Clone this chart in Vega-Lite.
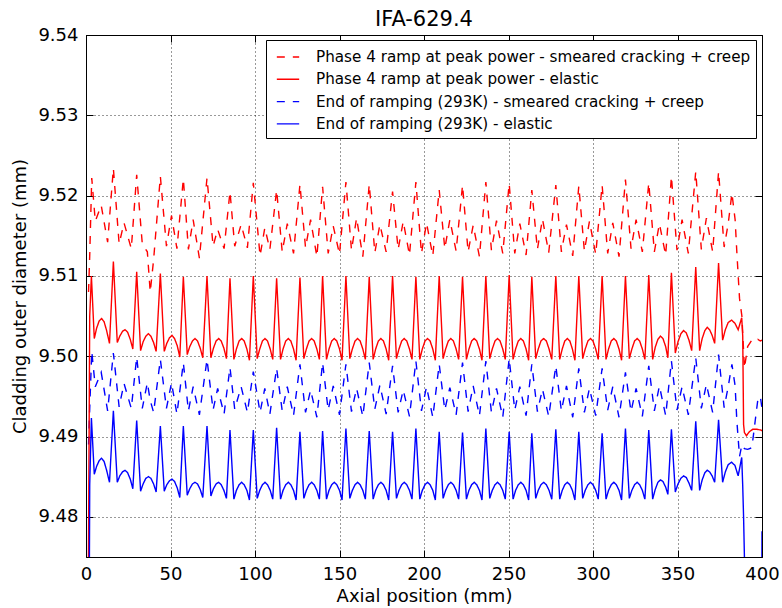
{
"$schema":"https://vega.github.io/schema/vega-lite/v6.json",
"width":676,"height":522,
"autosize":{"type":"none"},
"padding":{"left":86,"top":35,"right":20,"bottom":51},
"background":"white",
"title":{"text":"IFA-629.4","fontSize":21,"fontWeight":"normal","font":"DejaVu Sans","color":"black","offset":-4,"frame":"group"},
"config":{
"font":"DejaVu Sans",
"view":{"stroke":"black","strokeWidth":1},
"axis":{"labelFont":"DejaVu Sans","titleFont":"DejaVu Sans","labelFontSize":18,"titleFontSize":18,"titleFontWeight":"normal","labelColor":"black","titleColor":"black","domainColor":"black","tickColor":"black","tickSize":-7,"labelPadding":15,"gridColor":"black","gridDash":[1,3],"gridOpacity":0.8,"gridWidth":1},
"legend":{"orient":"none","legendX":180,"legendY":5,"strokeColor":"black","fillColor":"white","padding":5,"symbolOffset":5,"symbolType":"stroke","symbolSize":500,"symbolStrokeWidth":1.4,"labelFontSize":15.2,"labelFont":"DejaVu Sans","labelColor":"black","labelLimit":1000,"labelOffset":16,"rowPadding":1.3,"cornerRadius":0}
},
"datasets":{
"dashed":[
{"x":1.5,"a":9.5080,"c":9.4890},{"x":2.2,"a":9.5125,"c":9.4935},
{"x":3.4,"a":9.5222,"c":9.5006},{"x":5.5,"a":9.5168,"c":9.4962},{"x":9.0,"a":9.5188,"c":9.4980},{"x":12.8,"a":9.5142,"c":9.4932},
{"x":16.2,"a":9.5234,"c":9.5004},{"x":19.6,"a":9.5140,"c":9.4937},{"x":22.5,"a":9.5166,"c":9.4966},{"x":26.8,"a":9.5134,"c":9.4935},
{"x":30.0,"a":9.5226,"c":9.4999},{"x":33.3,"a":9.5140,"c":9.4935},{"x":36.3,"a":9.5130,"c":9.4967},{"x":38.0,"a":9.5080,"c":9.4945},{"x":40.0,"a":9.5120,"c":9.4930},
{"x":44.0,"a":9.5224,"c":9.4996},{"x":47.6,"a":9.5137,"c":9.4935},{"x":50.6,"a":9.5175,"c":9.4967},{"x":53.8,"a":9.5134,"c":9.4928},
{"x":57.6,"a":9.5221,"c":9.4992},{"x":60.6,"a":9.5133,"c":9.4932},{"x":63.4,"a":9.5170,"c":9.4962},{"x":67.1,"a":9.5122,"c":9.4927},
{"x":71.6,"a":9.5222,"c":9.4996},{"x":75.2,"a":9.5137,"c":9.4933},{"x":77.9,"a":9.5158,"c":9.4960},{"x":81.7,"a":9.5134,"c":9.4928},
{"x":85.2,"a":9.5205,"c":9.4986},{"x":88.0,"a":9.5137,"c":9.4934},{"x":91.8,"a":9.5164,"c":9.4962},{"x":95.5,"a":9.5135,"c":9.4930},
{"x":99.0,"a":9.5216,"c":9.4981},{"x":103.0,"a":9.5125,"c":9.4930},{"x":105.8,"a":9.5160,"c":9.4960},{"x":108.8,"a":9.5133,"c":9.4928},
{"x":112.8,"a":9.5207,"c":9.4985},{"x":116.1,"a":9.5130,"c":9.4932},{"x":119.1,"a":9.5165,"c":9.4962},{"x":122.8,"a":9.5128,"c":9.4926},
{"x":126.6,"a":9.5214,"c":9.4990},{"x":129.9,"a":9.5135,"c":9.4930},{"x":132.9,"a":9.5170,"c":9.4958},{"x":136.6,"a":9.5124,"c":9.4924},
{"x":140.0,"a":9.5211,"c":9.4992},{"x":143.3,"a":9.5128,"c":9.4933},{"x":146.3,"a":9.5162,"c":9.4963},{"x":150.0,"a":9.5127,"c":9.4927},
{"x":153.8,"a":9.5217,"c":9.4990},{"x":157.1,"a":9.5132,"c":9.4931},{"x":160.1,"a":9.5172,"c":9.4960},{"x":163.8,"a":9.5124,"c":9.4925},
{"x":167.6,"a":9.5214,"c":9.4992},{"x":170.9,"a":9.5129,"c":9.4934},{"x":173.9,"a":9.5164,"c":9.4964},{"x":177.6,"a":9.5130,"c":9.4928},
{"x":181.4,"a":9.5205,"c":9.4988},{"x":184.7,"a":9.5133,"c":9.4930},{"x":187.7,"a":9.5168,"c":9.4958},{"x":191.4,"a":9.5126,"c":9.4925},
{"x":195.2,"a":9.5217,"c":9.4994},{"x":198.5,"a":9.5128,"c":9.4932},{"x":201.5,"a":9.5166,"c":9.4962},{"x":205.2,"a":9.5125,"c":9.4924},
{"x":209.0,"a":9.5207,"c":9.4990},{"x":212.3,"a":9.5134,"c":9.4933},{"x":215.3,"a":9.5170,"c":9.4961},{"x":219.0,"a":9.5131,"c":9.4927},
{"x":222.8,"a":9.5213,"c":9.4992},{"x":226.1,"a":9.5130,"c":9.4931},{"x":229.1,"a":9.5163,"c":9.4963},{"x":232.8,"a":9.5124,"c":9.4926},
{"x":236.6,"a":9.5217,"c":9.4994},{"x":239.9,"a":9.5132,"c":9.4930},{"x":242.9,"a":9.5169,"c":9.4960},{"x":246.6,"a":9.5128,"c":9.4924},
{"x":250.4,"a":9.5215,"c":9.4997},{"x":253.7,"a":9.5128,"c":9.4933},{"x":256.7,"a":9.5165,"c":9.4962},{"x":260.4,"a":9.5126,"c":9.4926},
{"x":263.8,"a":9.5207,"c":9.4990},{"x":267.1,"a":9.5133,"c":9.4931},{"x":270.1,"a":9.5171,"c":9.4959},{"x":273.8,"a":9.5129,"c":9.4925},
{"x":278.0,"a":9.5213,"c":9.4988},{"x":281.3,"a":9.5130,"c":9.4932},{"x":284.3,"a":9.5164,"c":9.4963},{"x":288.0,"a":9.5125,"c":9.4924},
{"x":291.6,"a":9.5212,"c":9.4985},{"x":294.9,"a":9.5131,"c":9.4930},{"x":297.9,"a":9.5168,"c":9.4960},{"x":301.6,"a":9.5127,"c":9.4926},
{"x":305.4,"a":9.5213,"c":9.4985},{"x":308.7,"a":9.5128,"c":9.4933},{"x":311.7,"a":9.5166,"c":9.4962},{"x":315.4,"a":9.5124,"c":9.4924},
{"x":319.2,"a":9.5220,"c":9.4980},{"x":322.5,"a":9.5134,"c":9.4931},{"x":325.5,"a":9.5170,"c":9.4960},{"x":329.2,"a":9.5130,"c":9.4925},
{"x":333.0,"a":9.5216,"c":9.4988},{"x":336.3,"a":9.5130,"c":9.4932},{"x":339.3,"a":9.5165,"c":9.4963},{"x":343.0,"a":9.5126,"c":9.4926},
{"x":346.4,"a":9.5224,"c":9.4994},{"x":349.7,"a":9.5132,"c":9.4933},{"x":352.7,"a":9.5170,"c":9.4962},{"x":356.4,"a":9.5128,"c":9.4927},
{"x":360.8,"a":9.5230,"c":9.4998},{"x":364.1,"a":9.5133,"c":9.4935},{"x":367.1,"a":9.5172,"c":9.4965},{"x":370.8,"a":9.5130,"c":9.4930},
{"x":374.3,"a":9.5230,"c":9.5002},{"x":377.6,"a":9.5136,"c":9.4936},{"x":380.0,"a":9.5165,"c":9.4962},{"x":382.2,"a":9.5203,"c":9.4990},
{"x":384.1,"a":9.5170,"c":9.4963},{"x":385.1,"a":9.5130,"c":9.4920},{"x":386.7,"a":9.5072,"c":9.4875},{"x":388.1,"a":9.5050,"c":9.4890},
{"x":389.6,"a":9.4985,"c":9.4885},{"x":391.5,"a":9.5012,"c":9.4884},{"x":394.0,"a":9.5020,"c":9.4886},{"x":396.0,"a":9.5018,"c":9.4920},
{"x":397.6,"a":9.5021,"c":9.4947},{"x":399.0,"a":9.5019,"c":9.4950},{"x":400.0,"a":9.5020,"c":9.4935}
],
"solid":[
{"x":0.6,"b":9.44,"d":9.40},{"x":2.2,"b":9.505,"d":9.484},
{"x":3.2,"b":9.5100,"d":9.4923},{"x":4.9,"b":9.5022,"d":9.4853},{"x":6.3,"b":9.5035,"d":9.4863},{"x":7.8,"b":9.5044,"d":9.4870},{"x":9.2,"b":9.5047,"d":9.4873},{"x":10.7,"b":9.5043,"d":9.4869},{"x":12.2,"b":9.5032,"d":9.4858},{"x":13.9,"b":9.5016,"d":9.4843},
{"x":16.2,"b":9.5118,"d":9.4932},{"x":18.5,"b":9.5017,"d":9.4843},{"x":20.0,"b":9.5025,"d":9.4851},{"x":21.6,"b":9.5031,"d":9.4856},{"x":23.1,"b":9.5033,"d":9.4858},{"x":24.6,"b":9.5030,"d":9.4855},{"x":26.2,"b":9.5021,"d":9.4847},{"x":27.7,"b":9.5009,"d":9.4835},
{"x":30.0,"b":9.5105,"d":9.4920},{"x":32.3,"b":9.5007,"d":9.4832},{"x":33.8,"b":9.5018,"d":9.4841},{"x":35.4,"b":9.5025,"d":9.4848},{"x":36.9,"b":9.5028,"d":9.4850},{"x":38.4,"b":9.5025,"d":9.4848},{"x":40.0,"b":9.5017,"d":9.4841},{"x":41.5,"b":9.5006,"d":9.4831},
{"x":44.0,"b":9.5103,"d":9.4913},{"x":46.3,"b":9.5006,"d":9.4832},{"x":47.8,"b":9.5016,"d":9.4840},{"x":49.4,"b":9.5023,"d":9.4845},{"x":50.9,"b":9.5026,"d":9.4847},{"x":52.4,"b":9.5022,"d":9.4844},{"x":54.0,"b":9.5013,"d":9.4836},{"x":55.5,"b":9.4999,"d":9.4824},
{"x":57.6,"b":9.5099,"d":9.4913},{"x":59.9,"b":9.5002,"d":9.4827},{"x":61.4,"b":9.5012,"d":9.4835},{"x":63.0,"b":9.5019,"d":9.4841},{"x":64.5,"b":9.5022,"d":9.4843},{"x":66.0,"b":9.5019,"d":9.4841},{"x":67.6,"b":9.5010,"d":9.4834},{"x":69.1,"b":9.4998,"d":9.4824},
{"x":71.6,"b":9.5100,"d":9.4913},{"x":73.9,"b":9.4998,"d":9.4826},{"x":75.4,"b":9.5010,"d":9.4835},{"x":77.0,"b":9.5019,"d":9.4841},{"x":78.5,"b":9.5022,"d":9.4843},{"x":80.0,"b":9.5019,"d":9.4840},{"x":81.6,"b":9.5010,"d":9.4833},{"x":83.1,"b":9.4997,"d":9.4823},
{"x":85.2,"b":9.5097,"d":9.4908},{"x":87.5,"b":9.4996,"d":9.4822},{"x":89.0,"b":9.5009,"d":9.4833},{"x":90.6,"b":9.5019,"d":9.4840},{"x":92.1,"b":9.5022,"d":9.4843},{"x":93.6,"b":9.5019,"d":9.4840},{"x":95.2,"b":9.5009,"d":9.4833},{"x":96.7,"b":9.4995,"d":9.4821},
{"x":99.0,"b":9.5100,"d":9.4908},{"x":101.3,"b":9.4997,"d":9.4823},{"x":102.8,"b":9.5009,"d":9.4833},{"x":104.4,"b":9.5019,"d":9.4840},{"x":105.9,"b":9.5022,"d":9.4843},{"x":107.4,"b":9.5019,"d":9.4840},{"x":109.0,"b":9.5009,"d":9.4833},{"x":110.5,"b":9.4996,"d":9.4822},
{"x":112.8,"b":9.5097,"d":9.4911},{"x":115.1,"b":9.4996,"d":9.4822},{"x":116.6,"b":9.5009,"d":9.4833},{"x":118.2,"b":9.5019,"d":9.4840},{"x":119.7,"b":9.5022,"d":9.4843},{"x":121.2,"b":9.5019,"d":9.4840},{"x":122.8,"b":9.5009,"d":9.4833},{"x":124.3,"b":9.4995,"d":9.4821},
{"x":126.6,"b":9.5098,"d":9.4906},{"x":128.9,"b":9.4997,"d":9.4823},{"x":130.4,"b":9.5009,"d":9.4833},{"x":132.0,"b":9.5019,"d":9.4840},{"x":133.5,"b":9.5022,"d":9.4843},{"x":135.0,"b":9.5019,"d":9.4840},{"x":136.6,"b":9.5009,"d":9.4833},{"x":138.1,"b":9.4996,"d":9.4822},
{"x":140.0,"b":9.5100,"d":9.4907},{"x":142.3,"b":9.4996,"d":9.4822},{"x":143.8,"b":9.5009,"d":9.4833},{"x":145.4,"b":9.5019,"d":9.4840},{"x":146.9,"b":9.5022,"d":9.4843},{"x":148.4,"b":9.5019,"d":9.4840},{"x":150.0,"b":9.5009,"d":9.4833},{"x":151.5,"b":9.4995,"d":9.4821},
{"x":153.8,"b":9.5100,"d":9.4910},{"x":156.1,"b":9.4997,"d":9.4823},{"x":157.6,"b":9.5009,"d":9.4833},{"x":159.2,"b":9.5019,"d":9.4840},{"x":160.7,"b":9.5022,"d":9.4843},{"x":162.2,"b":9.5019,"d":9.4840},{"x":163.8,"b":9.5009,"d":9.4833},{"x":165.3,"b":9.4996,"d":9.4822},
{"x":167.6,"b":9.5099,"d":9.4907},{"x":169.9,"b":9.4996,"d":9.4822},{"x":171.4,"b":9.5009,"d":9.4833},{"x":173.0,"b":9.5019,"d":9.4840},{"x":174.5,"b":9.5022,"d":9.4843},{"x":176.0,"b":9.5019,"d":9.4840},{"x":177.6,"b":9.5009,"d":9.4833},{"x":179.1,"b":9.4995,"d":9.4821},
{"x":181.4,"b":9.5100,"d":9.4906},{"x":183.7,"b":9.4997,"d":9.4823},{"x":185.2,"b":9.5009,"d":9.4833},{"x":186.8,"b":9.5019,"d":9.4840},{"x":188.3,"b":9.5022,"d":9.4843},{"x":189.8,"b":9.5019,"d":9.4840},{"x":191.4,"b":9.5009,"d":9.4833},{"x":192.9,"b":9.4996,"d":9.4822},
{"x":195.2,"b":9.5099,"d":9.4910},{"x":197.5,"b":9.4996,"d":9.4822},{"x":199.0,"b":9.5009,"d":9.4833},{"x":200.6,"b":9.5019,"d":9.4840},{"x":202.1,"b":9.5022,"d":9.4843},{"x":203.6,"b":9.5019,"d":9.4840},{"x":205.2,"b":9.5009,"d":9.4833},{"x":206.7,"b":9.4995,"d":9.4821},
{"x":209.0,"b":9.5100,"d":9.4906},{"x":211.3,"b":9.4997,"d":9.4823},{"x":212.8,"b":9.5009,"d":9.4833},{"x":214.4,"b":9.5019,"d":9.4840},{"x":215.9,"b":9.5022,"d":9.4843},{"x":217.4,"b":9.5019,"d":9.4840},{"x":219.0,"b":9.5009,"d":9.4833},{"x":220.5,"b":9.4996,"d":9.4822},
{"x":222.8,"b":9.5099,"d":9.4905},{"x":225.1,"b":9.4996,"d":9.4822},{"x":226.6,"b":9.5009,"d":9.4833},{"x":228.2,"b":9.5019,"d":9.4840},{"x":229.7,"b":9.5022,"d":9.4843},{"x":231.2,"b":9.5019,"d":9.4840},{"x":232.8,"b":9.5009,"d":9.4833},{"x":234.3,"b":9.4995,"d":9.4821},
{"x":236.6,"b":9.5100,"d":9.4910},{"x":238.9,"b":9.4997,"d":9.4823},{"x":240.4,"b":9.5009,"d":9.4833},{"x":242.0,"b":9.5019,"d":9.4840},{"x":243.5,"b":9.5022,"d":9.4843},{"x":245.0,"b":9.5019,"d":9.4840},{"x":246.6,"b":9.5009,"d":9.4833},{"x":248.1,"b":9.4996,"d":9.4822},
{"x":250.4,"b":9.5101,"d":9.4906},{"x":252.7,"b":9.4996,"d":9.4822},{"x":254.2,"b":9.5009,"d":9.4833},{"x":255.8,"b":9.5019,"d":9.4840},{"x":257.3,"b":9.5022,"d":9.4843},{"x":258.8,"b":9.5019,"d":9.4840},{"x":260.4,"b":9.5009,"d":9.4833},{"x":261.9,"b":9.4995,"d":9.4821},
{"x":263.8,"b":9.5099,"d":9.4904},{"x":266.1,"b":9.4997,"d":9.4823},{"x":267.6,"b":9.5009,"d":9.4833},{"x":269.2,"b":9.5019,"d":9.4840},{"x":270.8,"b":9.5022,"d":9.4843},{"x":272.4,"b":9.5019,"d":9.4840},{"x":274.0,"b":9.5009,"d":9.4833},{"x":275.6,"b":9.4996,"d":9.4822},
{"x":278.0,"b":9.5100,"d":9.4909},{"x":280.3,"b":9.4996,"d":9.4822},{"x":281.8,"b":9.5009,"d":9.4833},{"x":283.3,"b":9.5019,"d":9.4840},{"x":284.8,"b":9.5022,"d":9.4843},{"x":286.3,"b":9.5019,"d":9.4840},{"x":287.8,"b":9.5009,"d":9.4833},{"x":289.3,"b":9.4995,"d":9.4821},
{"x":291.6,"b":9.5100,"d":9.4906},{"x":293.9,"b":9.4997,"d":9.4823},{"x":295.4,"b":9.5009,"d":9.4833},{"x":297.0,"b":9.5019,"d":9.4840},{"x":298.5,"b":9.5022,"d":9.4843},{"x":300.0,"b":9.5019,"d":9.4840},{"x":301.6,"b":9.5009,"d":9.4833},{"x":303.1,"b":9.4996,"d":9.4822},
{"x":305.4,"b":9.5100,"d":9.4904},{"x":307.7,"b":9.4996,"d":9.4822},{"x":309.2,"b":9.5009,"d":9.4833},{"x":310.8,"b":9.5019,"d":9.4840},{"x":312.3,"b":9.5022,"d":9.4843},{"x":313.8,"b":9.5019,"d":9.4840},{"x":315.4,"b":9.5009,"d":9.4833},{"x":316.9,"b":9.4995,"d":9.4821},
{"x":319.2,"b":9.5100,"d":9.4910},{"x":321.5,"b":9.4997,"d":9.4823},{"x":323.0,"b":9.5009,"d":9.4833},{"x":324.6,"b":9.5019,"d":9.4840},{"x":326.1,"b":9.5022,"d":9.4843},{"x":327.6,"b":9.5019,"d":9.4840},{"x":329.2,"b":9.5009,"d":9.4833},{"x":330.7,"b":9.4996,"d":9.4822},
{"x":333.0,"b":9.5101,"d":9.4908},{"x":335.3,"b":9.4996,"d":9.4822},{"x":336.8,"b":9.5011,"d":9.4834},{"x":338.4,"b":9.5021,"d":9.4843},{"x":339.9,"b":9.5025,"d":9.4846},{"x":341.4,"b":9.5022,"d":9.4844},{"x":343.0,"b":9.5012,"d":9.4837},{"x":344.3,"b":9.4998,"d":9.4828},
{"x":346.4,"b":9.5104,"d":9.4909},{"x":348.7,"b":9.5004,"d":9.4831},{"x":350.3,"b":9.5018,"d":9.4841},{"x":352.0,"b":9.5028,"d":9.4848},{"x":353.6,"b":9.5032,"d":9.4851},{"x":355.2,"b":9.5029,"d":9.4849},{"x":356.8,"b":9.5020,"d":9.4842},{"x":358.4,"b":9.5007,"d":9.4833},
{"x":360.8,"b":9.5111,"d":9.4919},{"x":363.1,"b":9.5007,"d":9.4833},{"x":364.6,"b":9.5022,"d":9.4846},{"x":366.2,"b":9.5032,"d":9.4855},{"x":367.6,"b":9.5036,"d":9.4858},{"x":369.0,"b":9.5033,"d":9.4856},{"x":370.5,"b":9.5026,"d":9.4851},{"x":372.0,"b":9.5016,"d":9.4843},
{"x":374.3,"b":9.5116,"d":9.4921},{"x":376.7,"b":9.5020,"d":9.4843},{"x":378.3,"b":9.5033,"d":9.4856},{"x":380.0,"b":9.5042,"d":9.4865},{"x":382.0,"b":9.5045,"d":9.4868},{"x":384.0,"b":9.5041,"d":9.4864},{"x":385.9,"b":9.5033,"d":9.4851},{"x":388.0,"b":9.5048,"d":9.4874},
{"x":388.6,"b":9.5025,"d":9.4838},{"x":389.1,"b":9.4915,"d":9.4800},{"x":389.6,"b":9.4905,"d":9.4750},{"x":390.8,"b":9.4901,"d":9.4620},{"x":392.5,"b":9.4906,"d":9.4500},{"x":394.5,"b":9.4909,"d":9.4500},{"x":397.0,"b":9.4909,"d":9.4500},{"x":399.5,"b":9.4908,"d":9.4500},{"x":400.0,"b":9.4907,"d":9.4782}
]
},
"layer":[
{"data":{"name":"dashed"},
"transform":[{"fold":["a","c"],"as":["s","v"]}],
"mark":{"type":"line","clip":true,"strokeWidth":1.4},
"encoding":{
"x":{"field":"x","type":"quantitative","scale":{"domain":[0,400],"nice":false,"zero":false},"axis":{"values":[0,50,100,150,200,250,300,350,400],"format":"d","title":"Axial position (mm)","grid":true,"labelFlush":false,"titlePadding":4}},
"y":{"field":"v","type":"quantitative","scale":{"domain":[9.475,9.54],"nice":false,"zero":false},"axis":{"values":[9.48,9.49,9.5,9.51,9.52,9.53,9.54],"format":".2f","title":"Cladding outer diameter (mm)","grid":true,"labelFlush":false,"titlePadding":8}},
"color":{"field":"s","type":"nominal","scale":{"domain":["a","b","c","d"],"range":["#ff0000","#ff0000","#0000ff","#0000ff"]},"legend":{"title":null,"labelExpr":"datum.label == 'a' ? 'Phase 4 ramp at peak power - smeared cracking + creep' : datum.label == 'b' ? 'Phase 4 ramp at peak power - elastic' : datum.label == 'c' ? 'End of ramping (293K) - smeared cracking + creep' : 'End of ramping (293K) - elastic'"}},
"strokeDash":{"field":"s","type":"nominal","scale":{"domain":["a","b","c","d"],"range":[[8,8],[1,0],[8,8],[1,0]]},"legend":{"title":null,"labelExpr":"datum.label == 'a' ? 'Phase 4 ramp at peak power - smeared cracking + creep' : datum.label == 'b' ? 'Phase 4 ramp at peak power - elastic' : datum.label == 'c' ? 'End of ramping (293K) - smeared cracking + creep' : 'End of ramping (293K) - elastic'"}}
}},
{"data":{"name":"solid"},
"transform":[{"fold":["b","d"],"as":["s","v"]}],
"mark":{"type":"line","clip":true,"strokeWidth":1.4},
"encoding":{
"x":{"field":"x","type":"quantitative","axis":{"orient":"top","values":[0,50,100,150,200,250,300,350,400],"labels":false,"title":null,"grid":false,"domain":false}},
"y":{"field":"v","type":"quantitative","axis":{"orient":"right","values":[9.48,9.49,9.5,9.51,9.52,9.53,9.54],"labels":false,"title":null,"grid":false,"domain":false}},
"color":{"field":"s","type":"nominal"},
"strokeDash":{"field":"s","type":"nominal"}
}}
],
"resolve":{"axis":{"x":"independent","y":"independent"}}
}
